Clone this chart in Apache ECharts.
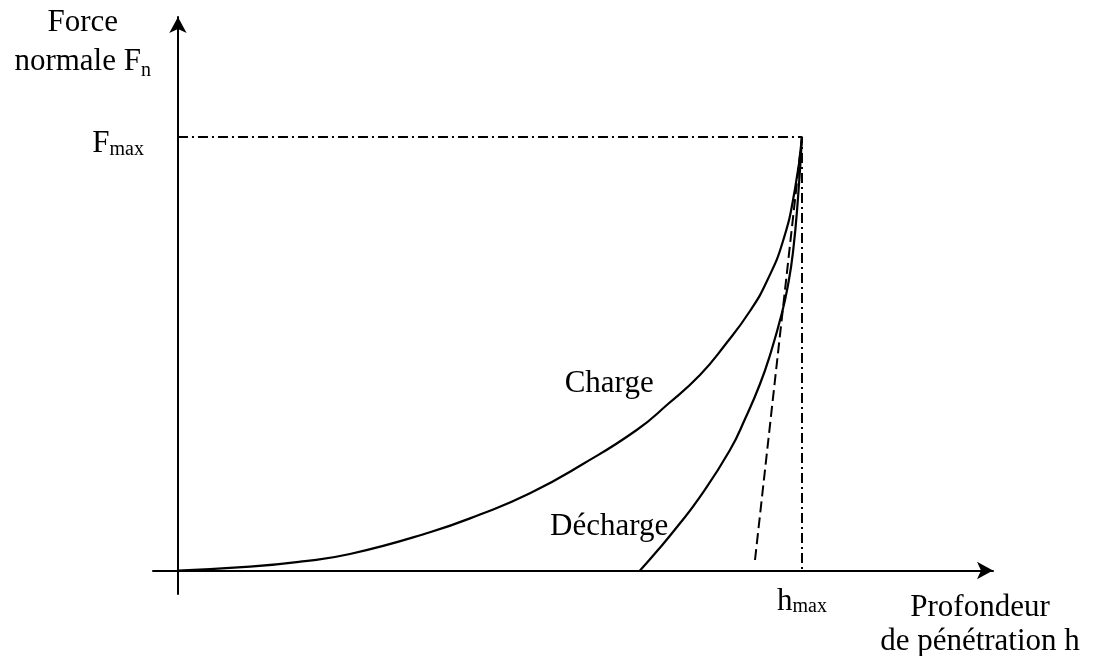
<!DOCTYPE html>
<html>
<head>
<meta charset="utf-8">
<script src="https://cdn.jsdelivr.net/npm/echarts@6/dist/echarts.min.js"></script>
<style>
  html, body { margin: 0; padding: 0; background: #fff; }
  #chart { width: 1095px; height: 656px; }
</style>
</head>
<body>
<div id="chart"></div>
<script>
// Indentation curve: normal force versus penetration depth,
// both normalised so that h_max = 100 and F_max = 100.
const H_MAX = 100;
const F_MAX = 100;

// Loading branch (Charge)
const chargeH = [0, 11.54, 19.55, 27.56, 40.38, 48.40, 56.41, 64.90, 73.51, 78.53, 83.65, 87.66, 91.67, 94.39, 96.96, 98.88, 100];
const chargeF = [0, 0.88, 2.03, 3.80, 8.83, 12.92, 17.81, 24.57, 32.41, 38.41, 45.10, 52.02, 59.86, 66.78, 76.01, 88.00, 100];

// Unloading branch (Décharge)
const dechargeH = [74.04, 76.92, 79.97, 83.65, 88.46, 90.87, 93.27, 95.03, 96.79, 97.76, 98.56, 99.36, 100];
const dechargeF = [0, 4.73, 10.03, 16.96, 27.80, 34.95, 43.02, 50.40, 59.40, 65.86, 73.47, 85.93, 100];

// Tangent to the unloading branch at (h_max, F_max)
const tangentH = [92.47, 100];
const tangentF = [2.42, 100];

// Axis texts
const xTickLabel = ['h', 'max'];
const yTickLabel = ['F', 'max'];
const xAxisTitle = ['Profondeur', 'de pénétration h'];
const yAxisTitle = ['Force', 'normale F', 'n'];

// Curve captions and their anchor points (h, F)
const curveNames = ['Charge', 'Décharge'];
const curveLabelH = [69.1, 69.1];
const curveLabelF = [43.0, 10.15];

const SERIF = "'Liberation Serif', 'Times New Roman', serif";
const INK = '#000';

const zip = (xs, ys) => xs.map((x, i) => [x, ys[i]]);

const chart = echarts.init(document.getElementById('chart'), null, { renderer: 'canvas' });

// subscript: smaller, sitting slightly below the main baseline
const subStyle = { fontSize: 20, fontFamily: SERIF, color: INK, lineHeight: 19, verticalAlign: 'bottom' };

const arrowAxisLine = {
  show: true,
  onZero: true,
  symbol: ['none', 'arrow'],
  symbolSize: [13, 16],
  lineStyle: { color: INK, width: 2 }
};

chart.setOption({
  animation: false,
  backgroundColor: '#fff',
  grid: {
    left: 153, right: 102, top: 17, bottom: 62,
    containLabel: false,
    outerBoundsMode: 'none'
  },
  xAxis: {
    type: 'value',
    min: -4,
    max: 130.61,
    splitLine: { show: false },
    axisTick: { show: false },
    axisLine: arrowAxisLine,
    axisLabel: {
      customValues: [H_MAX],
      margin: -8,
      fontSize: 31,
      lineHeight: 31,
      fontFamily: SERIF,
      color: INK,
      formatter: () => xTickLabel[0] + '{s|' + xTickLabel[1] + '}',
      rich: { s: subStyle }
    },
    name: xAxisTitle.join('\n'),
    nameLocation: 'end',
    nameGap: -13,
    nameTextStyle: {
      fontSize: 31,
      fontFamily: SERIF,
      color: INK,
      align: 'center',
      verticalAlign: 'top',
      lineHeight: 34,
      padding: [20, 0, 0, 0]
    }
  },
  yAxis: {
    type: 'value',
    min: -5.42,
    max: 127.68,
    splitLine: { show: false },
    axisTick: { show: false },
    axisLine: arrowAxisLine,
    axisLabel: {
      customValues: [F_MAX],
      margin: 9,
      fontSize: 31,
      lineHeight: 31,
      fontFamily: SERIF,
      color: INK,
      padding: [14, 0, 0, 0],
      formatter: () => yTickLabel[0] + '{s|' + yTickLabel[1] + '}',
      rich: { s: subStyle }
    }
  },
  graphic: [{
    type: 'text',
    x: 82.7,
    y: 3,
    style: {
      text: yAxisTitle[0] + '\n' + yAxisTitle[1] + '{s|' + yAxisTitle[2] + '}',
      fontSize: 31,
      fontFamily: SERIF,
      fill: INK,
      align: 'center',
      verticalAlign: 'top',
      lineHeight: 39,
      rich: { s: { fontSize: 20, fontFamily: SERIF, fill: INK, lineHeight: 25.5, verticalAlign: 'bottom' } }
    }
  }],
  series: [
    {
      // dash-dot guides from F_max to h_max
      type: 'line',
      data: [[0, F_MAX], [H_MAX, F_MAX], [H_MAX, 0]],
      symbol: 'none',
      silent: true,
      z: 1,
      lineStyle: { color: INK, width: 2, type: [10, 4, 2, 4] }
    },
    {
      name: curveNames[0],
      type: 'line',
      data: zip(chargeH, chargeF),
      symbol: 'none',
      smooth: 0.5,
      z: 3,
      lineStyle: { color: INK, width: 2.2 }
    },
    {
      name: curveNames[1],
      type: 'line',
      data: zip(dechargeH, dechargeF),
      symbol: 'none',
      smooth: 0.5,
      z: 3,
      lineStyle: { color: INK, width: 2.2 }
    },
    {
      type: 'line',
      data: zip(tangentH, tangentF),
      symbol: 'none',
      z: 2,
      lineStyle: { color: INK, width: 2, type: [11, 5] }
    },
    {
      type: 'scatter',
      symbolSize: 0,
      silent: true,
      z: 4,
      itemStyle: { opacity: 1 },
      data: curveNames.map((n, i) => ({ name: n, value: [curveLabelH[i], curveLabelF[i]] })),
      label: {
        show: true,
        position: [0, 0],
        align: 'center',
        verticalAlign: 'middle',
        fontSize: 31,
        fontFamily: SERIF,
        color: INK,
        formatter: p => p.name
      }
    }
  ]
});
</script>
</body>
</html>
